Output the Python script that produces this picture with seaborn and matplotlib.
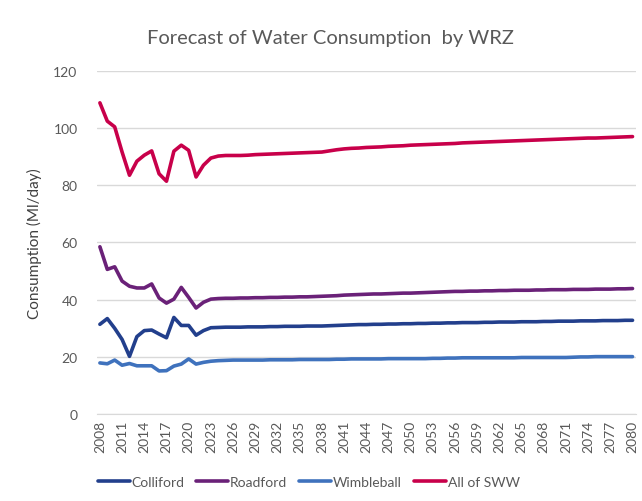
import numpy as np
import pandas as pd
import matplotlib
matplotlib.use("Agg")
import matplotlib.pyplot as plt
import seaborn as sns

years = list(range(2008, 2081))

colliford = [31.4, 33.4, 30.0, 26.1, 20.2, 27.1, 29.2, 29.4, 28.0, 26.7, 33.8, 31.0, 31.0, 27.6, 29.2, 30.2,
             30.3, 30.4, 30.4, 30.4, 30.5, 30.5, 30.5, 30.6, 30.6, 30.7, 30.7, 30.7, 30.8, 30.8, 30.8, 30.9,
             31.0, 31.1, 31.2, 31.3, 31.3, 31.4, 31.4, 31.5, 31.5, 31.6, 31.6, 31.7, 31.7, 31.8, 31.8, 31.9,
             31.9, 32.0, 32.0, 32.0, 32.1, 32.1, 32.2, 32.2, 32.2, 32.3, 32.3, 32.3, 32.4, 32.4, 32.5, 32.5,
             32.5, 32.6, 32.6, 32.6, 32.7, 32.7, 32.7, 32.8, 32.8]
roadford = [58.5, 50.6, 51.5, 46.5, 44.7, 44.1, 44.1, 45.5, 40.6, 38.8, 40.2, 44.3, 40.8, 37.1, 39.1, 40.2,
            40.4, 40.5, 40.5, 40.6, 40.6, 40.7, 40.7, 40.8, 40.8, 40.9, 40.9, 41.0, 41.0, 41.1, 41.2, 41.3,
            41.4, 41.6, 41.7, 41.8, 41.9, 42.0, 42.0, 42.1, 42.2, 42.3, 42.3, 42.4, 42.5, 42.6, 42.7, 42.8,
            42.9, 42.9, 43.0, 43.0, 43.1, 43.1, 43.2, 43.2, 43.3, 43.3, 43.3, 43.4, 43.4, 43.5, 43.5, 43.5,
            43.6, 43.6, 43.6, 43.7, 43.7, 43.7, 43.8, 43.8, 43.9]
wimbleball = [17.9, 17.6, 18.9, 17.1, 17.7, 16.9, 16.9, 16.9, 15.1, 15.2, 16.8, 17.5, 19.3, 17.5, 18.1, 18.5,
              18.7, 18.8, 18.9, 18.9, 18.9, 18.9, 18.9, 19.0, 19.0, 19.0, 19.0, 19.1, 19.1, 19.1, 19.1, 19.1,
              19.2, 19.2, 19.3, 19.3, 19.3, 19.3, 19.3, 19.4, 19.4, 19.4, 19.4, 19.4, 19.4, 19.5, 19.5, 19.6,
              19.6, 19.7, 19.7, 19.7, 19.7, 19.7, 19.7, 19.7, 19.7, 19.8, 19.8, 19.8, 19.8, 19.8, 19.8, 19.8,
              19.9, 20.0, 20.0, 20.1, 20.1, 20.1, 20.1, 20.1, 20.1]
all_sww = [108.8, 102.4, 100.4, 91.6, 83.5, 88.4, 90.5, 92.0, 84.0, 81.4, 91.9, 94.0, 92.2, 82.9, 87.0, 89.5,
           90.2, 90.4, 90.4, 90.4, 90.5, 90.7, 90.8, 90.9, 91.0, 91.1, 91.2, 91.3, 91.4, 91.5, 91.6, 92.0,
           92.4, 92.7, 92.9, 93.0, 93.2, 93.3, 93.4, 93.6, 93.7, 93.8, 94.0, 94.1, 94.2, 94.3, 94.4, 94.5,
           94.6, 94.8, 94.9, 95.0, 95.1, 95.2, 95.3, 95.4, 95.5, 95.6, 95.7, 95.8, 95.9, 96.0, 96.1, 96.2,
           96.3, 96.4, 96.5, 96.5, 96.6, 96.7, 96.8, 96.9, 97.0]

series_names = ["Colliford", "Roadford", "Wimbleball", "All of SWW"]
tick_years = list(range(2008, 2081, 3))
y_ticks = [0, 20, 40, 60, 80, 100, 120]

df = pd.DataFrame({
    "Year": years * 4,
    "Consumption": colliford + roadford + wimbleball + all_sww,
    "WRZ": sum([[n] * len(years) for n in series_names], []),
})

sns.set_style("white")
plt.rcParams["font.family"] = ["Lato", "DejaVu Sans"]

palette = {"Colliford": "#223f8c", "Roadford": "#6a2178",
           "Wimbleball": "#3f72bd", "All of SWW": "#c8004a"}

fig = plt.figure(figsize=(6.42, 5.02), dpi=100)
ax = fig.add_axes([0.151, 0.173, 0.840, 0.684])

sns.lineplot(data=df, x="Year", y="Consumption", hue="WRZ", hue_order=series_names,
             palette=palette, linewidth=2.6, ax=ax, legend=True)

ax.set_xlim(2007.6, 2080.5)
ax.set_ylim(0, 120)
ax.set_yticks(y_ticks)
ax.set_xticks(tick_years)
ax.set_xticklabels([str(y) for y in tick_years], rotation=90, fontsize=10, color="#595959")
ax.tick_params(axis="y", labelsize=10, labelcolor="#595959", length=0, pad=14)
ax.tick_params(axis="x", length=0, pad=4)
ax.yaxis.grid(True, color="#d9d9d9", linewidth=1)
ax.xaxis.grid(False)
for s in ["top", "right", "left"]:
    ax.spines[s].set_visible(False)
ax.spines["bottom"].set_color("#d9d9d9")
ax.set_xlabel("")
ax.set_ylabel("Consumption (Ml/day)", fontsize=11, color="#404040", labelpad=8)

fig.text(0.515, 0.923, "Forecast of Water Consumption  by WRZ", ha="center", va="center",
         fontsize=14.5, color="#595959")

handles, labels = ax.get_legend_handles_labels()
ax.legend(handles, labels, loc="center left", bbox_to_anchor=(-0.022, -0.198), ncol=4, frameon=False,
          fontsize=10, handlelength=2.3, handletextpad=0.1, columnspacing=0.9,
          labelcolor="#595959")

fig.savefig("out.png", dpi=100, facecolor="white")
